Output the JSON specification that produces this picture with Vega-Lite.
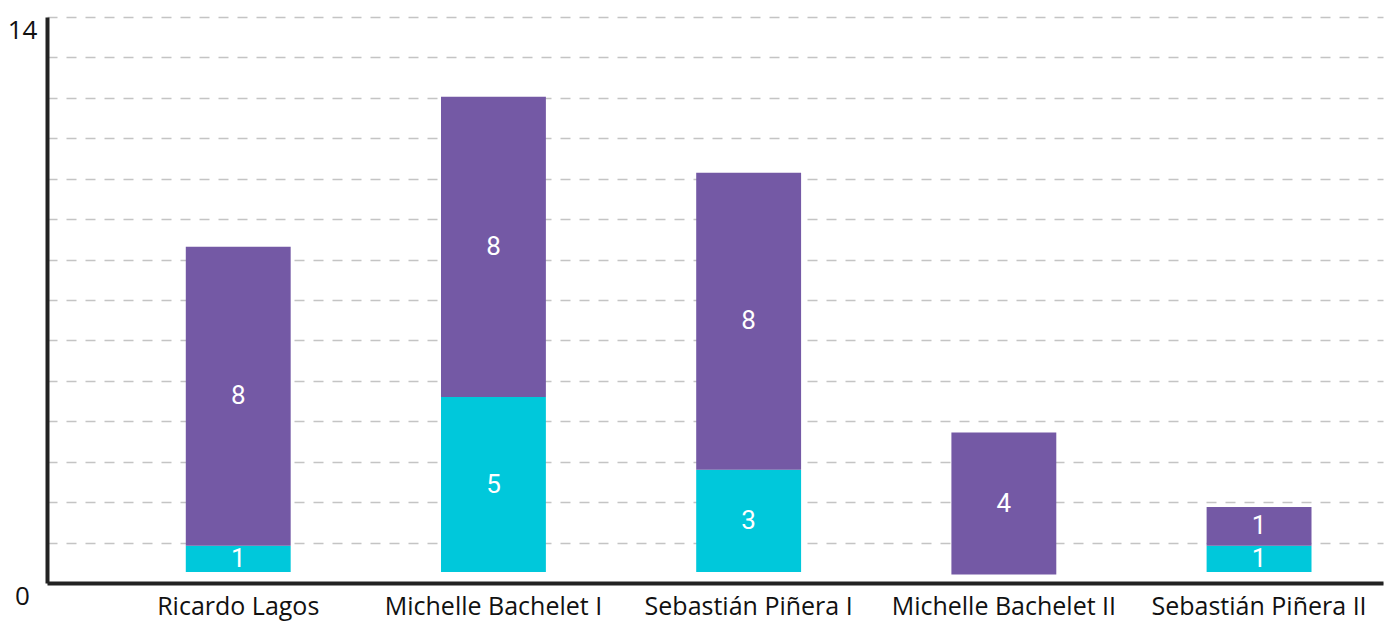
{
  "$schema": "https://vega.github.io/schema/vega-lite/v6.json",
  "width": 1336,
  "height": 566,
  "autosize": "none",
  "padding": {"left": 47, "top": 17, "right": 7, "bottom": 42},
  "background": "white",
  "config": {
    "view": {"stroke": null},
    "font": "Open Sans"
  },
  "data": {
    "values": [
      {"president": "Ricardo Lagos", "series": "A", "from": 0.27, "to": 0.92, "label": "1"},
      {"president": "Ricardo Lagos", "series": "B", "from": 0.92, "to": 8.32, "label": "8"},
      {"president": "Michelle Bachelet I", "series": "A", "from": 0.27, "to": 4.6, "label": "5"},
      {"president": "Michelle Bachelet I", "series": "B", "from": 4.6, "to": 12.03, "label": "8"},
      {"president": "Sebastián Piñera I", "series": "A", "from": 0.27, "to": 2.8, "label": "3"},
      {"president": "Sebastián Piñera I", "series": "B", "from": 2.8, "to": 10.15, "label": "8"},
      {"president": "Michelle Bachelet II", "series": "B", "from": 0.21, "to": 3.72, "label": "4"},
      {"president": "Sebastián Piñera II", "series": "A", "from": 0.27, "to": 0.92, "label": "1"},
      {"president": "Sebastián Piñera II", "series": "B", "from": 0.92, "to": 1.88, "label": "1"}
    ]
  },
  "transform": [{"calculate": "(datum.from + datum.to) / 2", "as": "mid"}],
  "encoding": {
    "x": {
      "field": "president",
      "type": "nominal",
      "sort": null,
      "scale": {"paddingInner": 0.589, "paddingOuter": 0.412, "align": 0.66},
      "axis": {
        "title": null,
        "labelAngle": 0,
        "labelFontSize": 25,
        "labelLimit": 0,
        "labelColor": "#111111",
        "labelPadding": 11,
        "ticks": false,
        "domainColor": "#222222",
        "domainWidth": 4,
        "grid": false
      }
    }
  },
  "layer": [
    {
      "mark": {"type": "bar"},
      "encoding": {
        "y": {
          "field": "from",
          "type": "quantitative",
          "scale": {"domain": [0, 14], "nice": false},
          "axis": {
            "title": null,
            "values": [0, 1, 2, 3, 4, 5, 6, 7, 8, 9, 10, 11, 12, 13, 14],
            "labelExpr": "datum.value == 0 || datum.value == 14 ? datum.label : ''",
            "labelFontSize": 26,
            "labelColor": "#111111",
            "labelAlign": "center",
            "labelBaseline": "top",
            "labelPadding": 25,
            "ticks": false,
            "domainColor": "#222222",
            "domainWidth": 4,
            "grid": true,
            "gridColor": "#c4c4c4",
            "gridWidth": 1.5,
            "gridDash": [10, 9]
          }
        },
        "y2": {"field": "to"},
        "color": {
          "field": "series",
          "type": "nominal",
          "scale": {"domain": ["A", "B"], "range": ["#00C8DB", "#7459A5"]},
          "legend": null
        }
      }
    },
    {
      "mark": {"type": "text", "color": "white", "fontSize": 26, "font": "Roboto", "baseline": "middle"},
      "encoding": {
        "y": {"field": "mid", "type": "quantitative"},
        "text": {"field": "label"}
      }
    }
  ]
}
